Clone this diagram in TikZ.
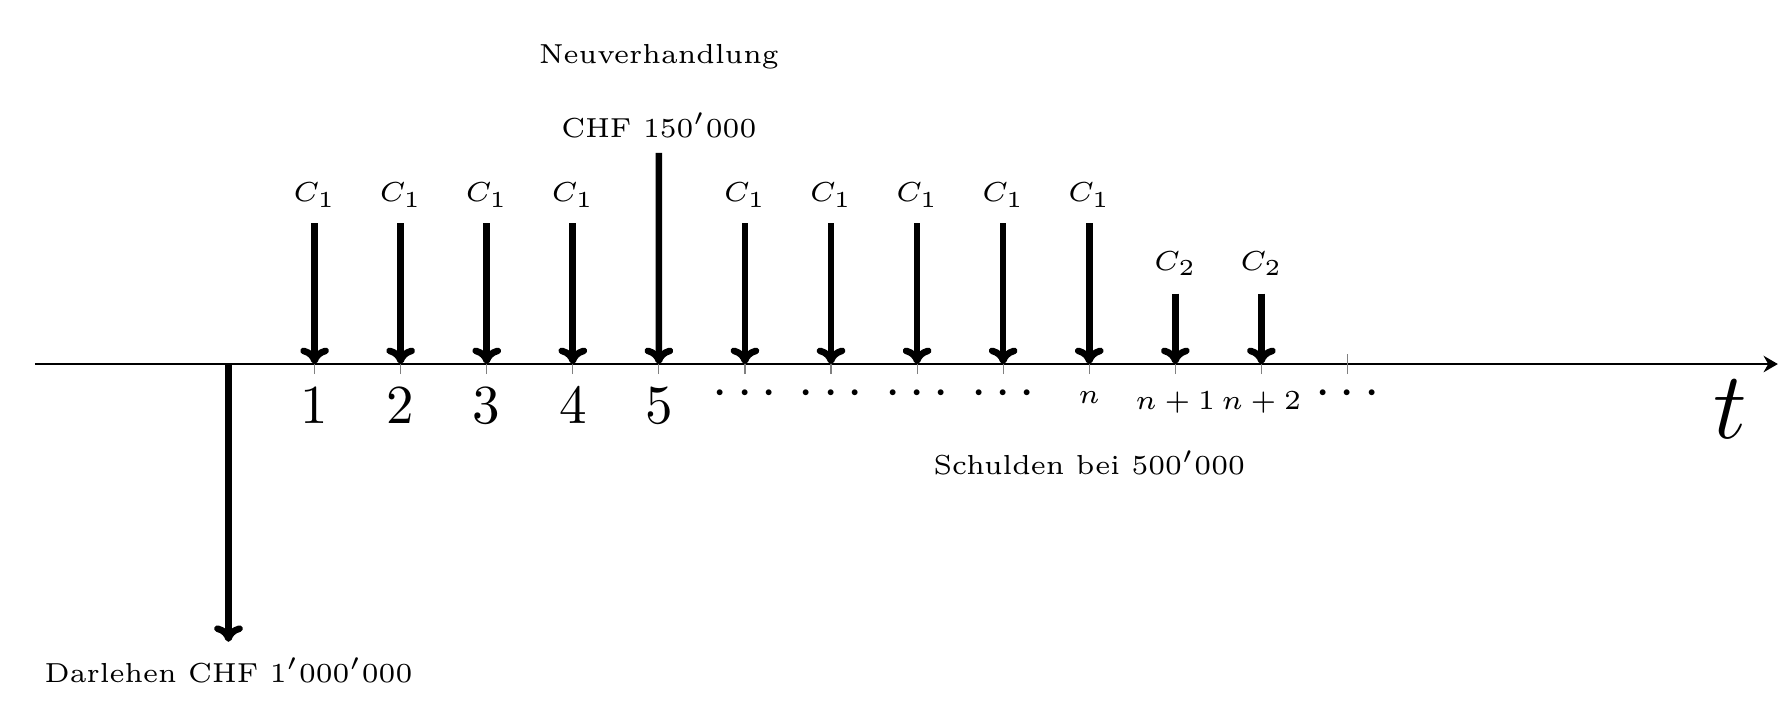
\documentclass[tikz,border=0pt]{standalone}
\usetikzlibrary{arrows.meta}
\begin{document}
\begin{tikzpicture}[
  axis/.style={line width=0.4pt, -{Stealth[length=2.6pt,width=3pt]}},
  flow/.style={line width=1.2pt, -{Computer Modern Rightarrow[length=3pt,width=5.2pt]}},
  tck/.style={gray, line width=0.2pt},
  lbl/.style={font=\fontsize{6}{7}\selectfont, scale=0.8333, inner sep=0pt, anchor=base},
  num/.style={font=\normalsize, inner sep=0pt, anchor=base}
]
\useasboundingbox (-1.460,-2.211) rectangle (9.933,2.326);
% axis
\coordinate (o) at (0,0);
\coordinate (axl) at (-1.2375,0);
\coordinate (axr) at (9.9,0);
\draw[axis] (axl) -- (axr);
% ticks
\foreach \k in {1,...,13} {
  \coordinate (p\k) at (\k*0.55,0);
  \draw[tck] ([yshift=-1.85pt]p\k) -- ([yshift=1.85pt]p\k);
}
% C1 payments
\foreach \k in {1,2,3,4,6,7,8,9,10} {
  \coordinate (s\k) at (\k*0.55,0.9);
  \draw[flow] (s\k) -- (p\k);
  \node[lbl] (c\k) at (\k*0.55,1.037) {$C_1$};
}
% renegotiation payment
\coordinate (s5) at (2.75,1.35);
\draw[flow] (s5) -- (p5);
\node[lbl] (chf) at (2.75,1.45) {CHF $150'000$};
\node[lbl] (neu) at (2.75,1.922) {Neuverhandlung};
% C2 payments
\foreach \k in {11,12} {
  \coordinate (s\k) at (\k*0.55,0.45);
  \draw[flow] (s\k) -- (p\k);
  \node[lbl] (c\k) at (\k*0.55,0.60) {$C_2$};
}
% loan
\coordinate (loan) at (0,-1.775);
\draw[flow] (o) -- (loan);
\node[lbl] (darl) at (0,-2.034) {Darlehen CHF $1'000'000$};
% tick labels
\foreach \k in {1,...,5} {
  \node[num] (n\k) at (\k*0.55,-0.379) {$\k$};
}
\foreach \k in {6,7,8,9,13} {
  \node[num] (d\k) at (\k*0.55,-0.272) {$\cdots$};
}
\node[lbl] (nn) at (5.5,-0.251) {$n$};
\node[lbl] (nn1) at (6.05,-0.29) {$n+1$};
\node[lbl] (nn2) at (6.6,-0.29) {$n+2$};
\node[lbl] (schuld) at (5.5,-0.709) {Schulden bei $500'000$};
\node[font=\LARGE, inner sep=0pt, anchor=base] (t) at (9.594,-0.475) {$t$};
\end{tikzpicture}
\end{document}
